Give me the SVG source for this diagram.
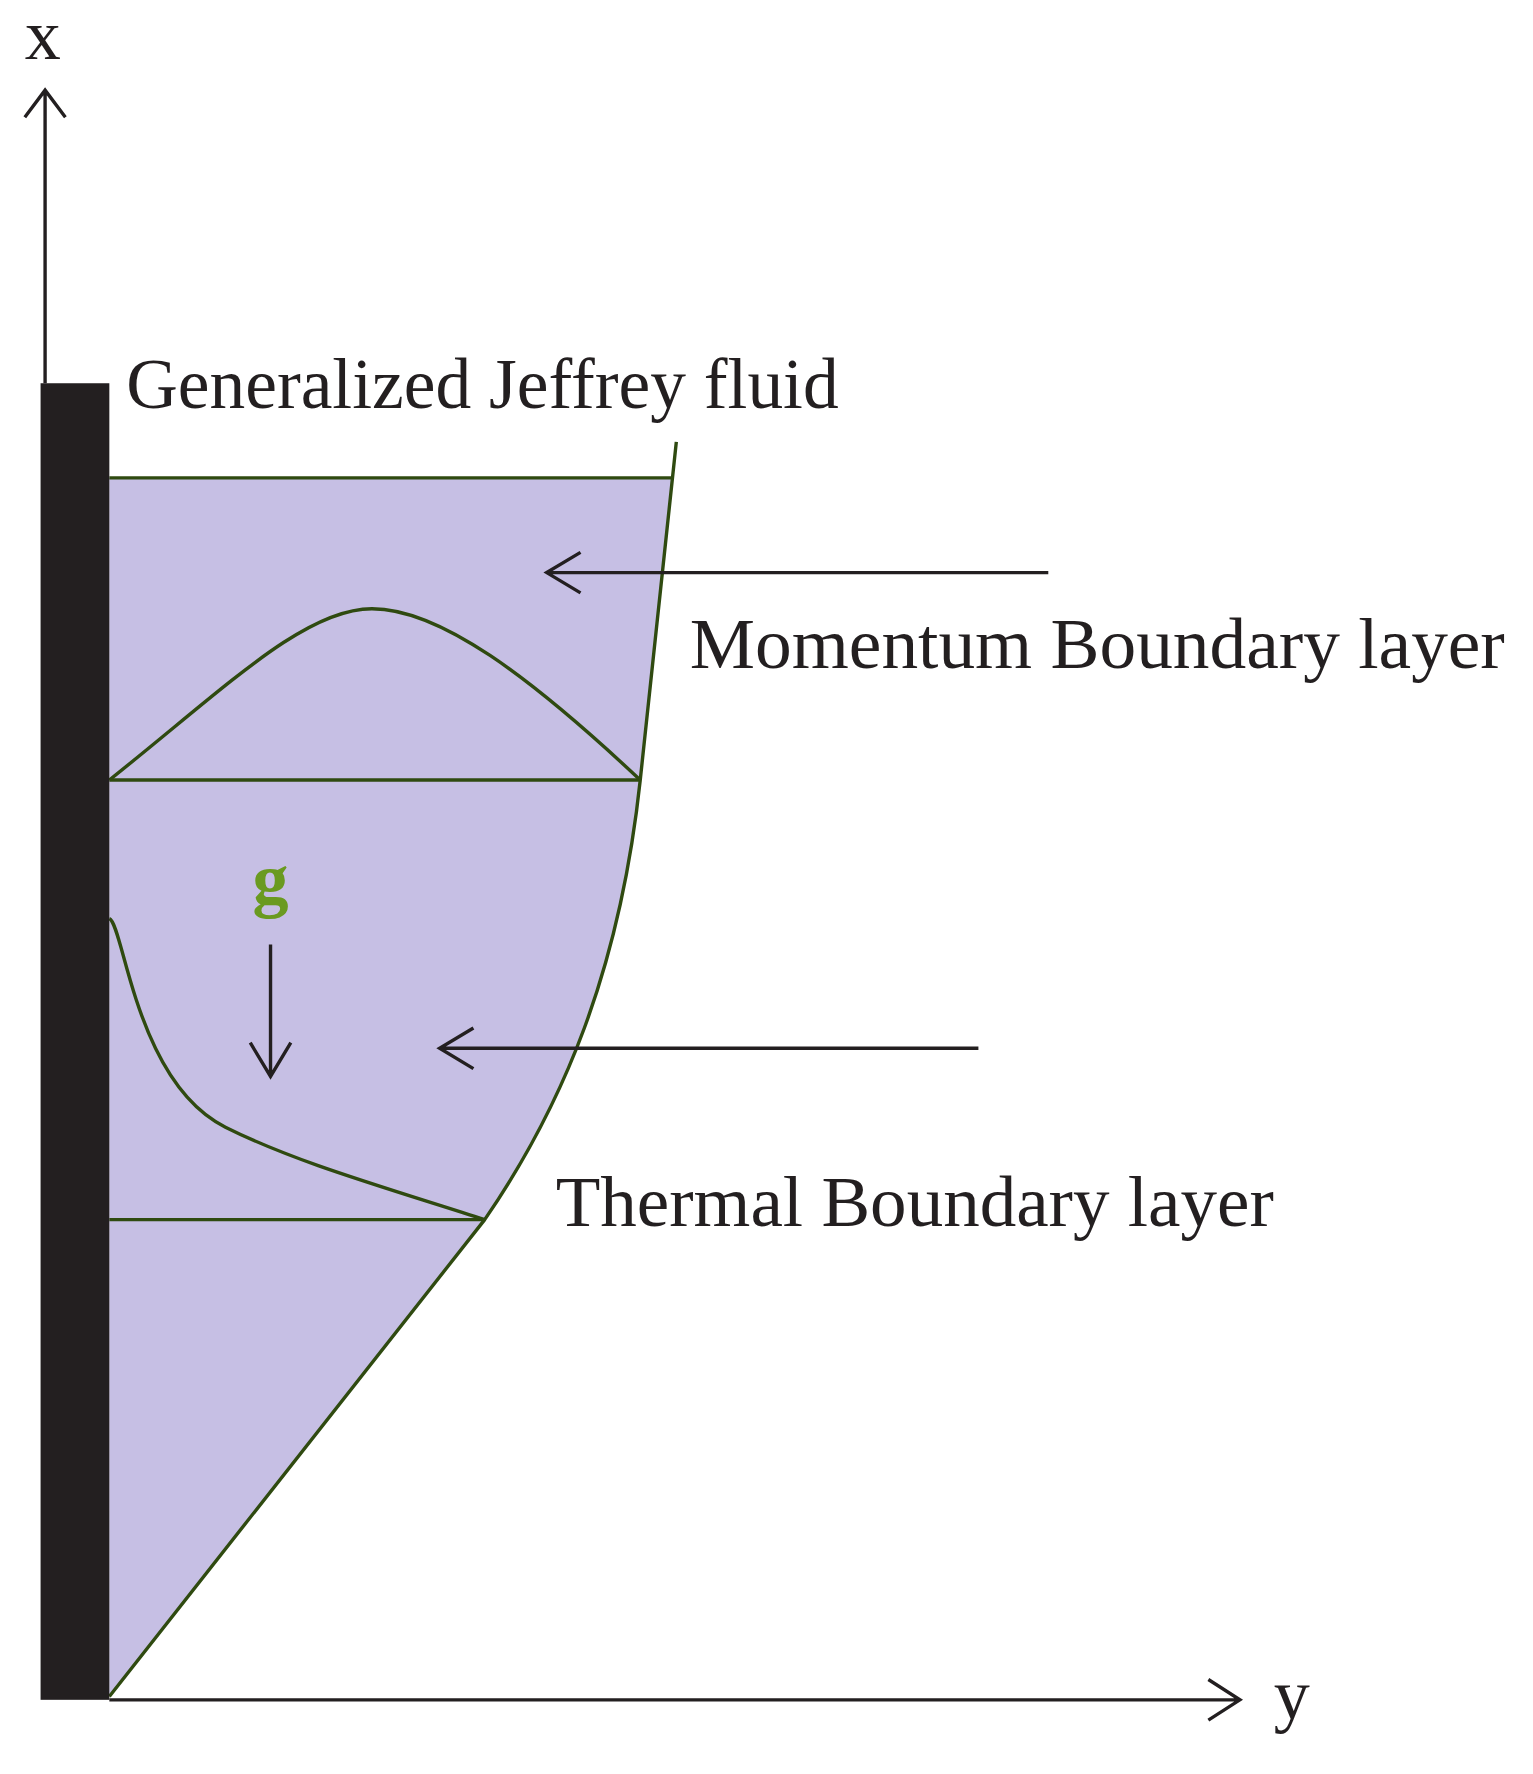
<svg xmlns="http://www.w3.org/2000/svg" width="1533" height="1774" viewBox="0 0 1533 1774">
<style>
.t{font-family:"Liberation Serif",serif;font-size:64px;fill:#231f20}
.ax{stroke:#231f20;stroke-width:3;fill:none}
.gl{stroke:#2f4a10;stroke-width:3;fill:none}
</style>
<rect width="1533" height="1774" fill="#fff"/>
<g transform="scale(1.1272)">
<g id="fluid">
<path d="M97,424 L596,424 L568,692 C550,860 500,980 430,1082 L97,1505 Z" fill="#c6bfe4"/>
<path class="gl" d="M97,424 L596,424"/>
<path class="gl" d="M600,392 L568,692 C550,860 500,980 430,1082 L97,1505"/>
<path class="gl" d="M97,692 L568,692 M97,1082 L430,1082"/>
<path class="gl" d="M97,692 C200,610 270,540 330,540 C390,540 470,600 568,692"/>
<path class="gl" d="M97,815 C110,820 120,960 200,1000 C260,1030 330,1050 430,1082"/>
</g>
<g id="wall"><rect x="36" y="340" width="61" height="1168" fill="#231f20"/></g>
<g id="connectors">
<path class="ax" d="M40,340 L40,80 M22,104 L40,80 L58,104"/>
<path class="ax" d="M97,1508 L1100,1508 M1072,1490 L1100,1508 L1072,1526"/>
<path class="ax" stroke-width="2.5" d="M930,508 L485,508 M515,490 L485,508 L515,526"/>
<path class="ax" stroke-width="2.5" d="M868,930 L390,930 M420,912 L390,930 L420,948"/>
<path class="ax" stroke-width="2.5" d="M240,838 L240,955 M222,925 L240,955 L258,925"/>
</g>
<g id="labels">
<text class="t" x="22" y="52" font-size="54">x</text>
<text class="t" x="1130" y="1525" font-size="54">y</text>
<text class="t" x="240" y="802" text-anchor="middle" style="fill:#6a9a20;font-weight:bold">g</text>
<text class="t" x="112" y="362" textLength="632" lengthAdjust="spacingAndGlyphs">Generalized Jeffrey fluid</text>
<text class="t" x="612" y="593" textLength="723" lengthAdjust="spacingAndGlyphs">Momentum Boundary layer</text>
<text class="t" x="493" y="1088" textLength="637" lengthAdjust="spacingAndGlyphs">Thermal Boundary layer</text>
</g>
</g>
</svg>
